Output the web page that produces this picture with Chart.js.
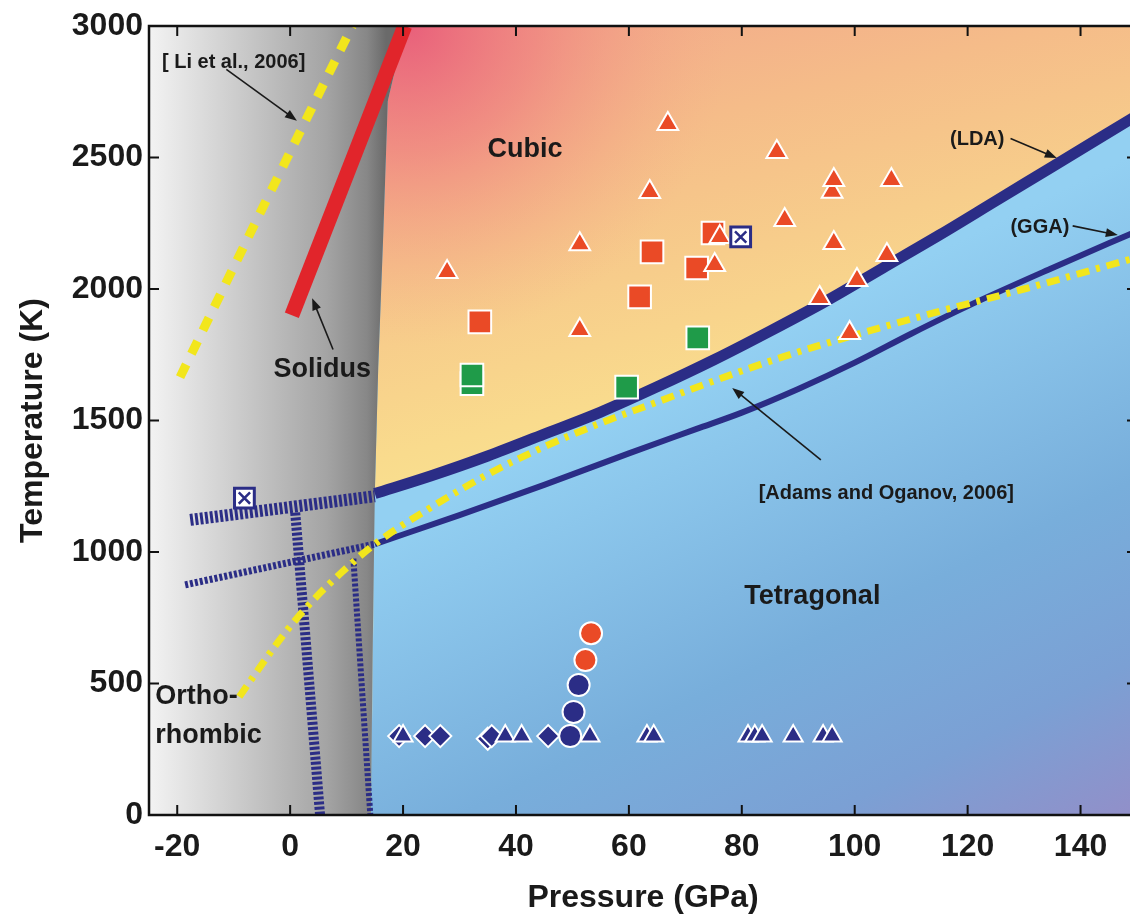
<!DOCTYPE html>
<html>
<head>
<meta charset="utf-8">
<title>MgSiO3 / SiO2 phase diagram</title>
<script src="https://cdn.jsdelivr.net/npm/chart.js@4.4.1/dist/chart.umd.min.js"></script>
<style>
  html, body { margin: 0; padding: 0; background: #fff; overflow: hidden; }
  canvas { display: block; }
</style>
</head>
<body>
<canvas id="phase-chart" width="1140" height="921"></canvas>
<script>
// axis ticks
const pressureTicks = [-20, 0, 20, 40, 60, 80, 100, 120, 140];
const temperatureTicks = [0, 500, 1000, 1500, 2000, 2500, 3000];

// cubic / tetragonal boundary, LDA
const ldaP = [15, 25, 35, 45, 55, 65, 75, 85, 95, 105, 115, 125, 135, 150];
const ldaT = [1222, 1290, 1365, 1448, 1532, 1628, 1730, 1840, 1955, 2080, 2205, 2335, 2465, 2660];

// cubic / tetragonal boundary, GGA
const ggaP = [15, 30, 45, 60, 72, 80, 90, 100, 110, 120, 135, 150];
const ggaT = [1030, 1140, 1255, 1375, 1468, 1530, 1620, 1720, 1830, 1935, 2080, 2220];

// Adams and Oganov, 2006
const adamsP = [-9, -1, 4, 9, 15, 25, 35, 45, 55, 65, 75, 87, 100, 115, 130, 150];
const adamsT = [450, 690, 815, 920, 1030, 1170, 1295, 1400, 1490, 1570, 1650, 1740, 1825, 1915, 2000, 2120];

// Li et al., 2006
const liP = [-19.5, -4.5, 11];
const liT = [1665, 2325, 3000];

// solidus
const solidusP = [0.3, 20.3];
const solidusT = [1900, 3000];

// extrapolated boundaries into the orthorhombic field
const ldaExtP = [-17.7, 15];
const ldaExtT = [1122, 1212];
const ggaExtP = [-18.6, 15];
const ggaExtT = [875, 1030];
const orthoUpperP = [0.9, 5.3];
const orthoUpperT = [1150, 0];
const orthoLowerP = [11.2, 14.2];
const orthoLowerT = [975, 0];

// orthorhombic field edge
const orthoEdgeP = [14.3, 14.6, 15.0, 15.6, 16.5, 17.3, 20.4];
const orthoEdgeT = [0, 600, 1224, 1700, 2210, 2715, 3000];

// experiments, cubic
const redTriP = [66.9, 86.2, 96.0, 96.3, 106.5, 63.7, 51.3, 27.8, 87.6, 96.3, 105.7, 100.4, 93.8, 99.1, 51.3, 76.1, 75.2];
const redTriT = [2627, 2521, 2370, 2414, 2414, 2369, 2170, 2065, 2262, 2175, 2129, 2034, 1966, 1833, 1844, 2198, 2091];
const redSqP = [33.6, 61.9, 64.1, 72.0, 74.9];
const redSqT = [1875, 1970, 2141, 2080, 2213];
const greenSqP = [32.2, 32.2, 59.6, 72.2];
const greenSqT = [1640, 1673, 1627, 1814];
const crossSqP = [79.8, -8.1];
const crossSqT = [2198, 1205];

// experiments, tetragonal
const blueTriP = [20.0, 38.1, 41.0, 53.1, 63.2, 64.4, 81.1, 82.3, 83.6, 89.1, 94.4, 96.0];
const blueTriT = [300, 300, 300, 300, 300, 300, 300, 300, 300, 300, 300, 300];
const blueDiaP = [19.3, 23.9, 26.6, 35.0, 35.7, 45.7];
const blueDiaT = [300, 300, 300, 290, 300, 300];
const blueCircP = [49.6, 50.2, 51.1];
const blueCircT = [300, 392, 494];
const redCircP = [52.3, 53.3];
const redCircT = [589, 691];

const NAVY = "#2b2d86";
const RED = "#ea4a26";
const GREEN = "#1f9b49";
const YELLOW = "#f2e61c";
const SOLIDUS_RED = "#e1252b";
const TEXT = "#1a1a1a";

function pts(xs, ys) {
    return xs.map((x, i) => ({ x: x, y: ys[i] }));
}

function lineSet(xs, ys, color, width, dash, tension) {
    return {
        data: pts(xs, ys),
        showLine: true,
        borderColor: color,
        borderWidth: width,
        borderDash: dash || [],
        borderCapStyle: "butt",
        cubicInterpolationMode: tension ? "monotone" : "default",
        pointRadius: 0,
        fill: false,
    };
}

function markerSet(xs, ys, style, radius, fill, stroke, strokeWidth) {
    return {
        data: pts(xs, ys),
        showLine: false,
        pointStyle: style,
        pointRadius: radius,
        pointBackgroundColor: fill,
        pointBorderColor: stroke,
        pointBorderWidth: strokeWidth,
    };
}

// back to front
const layers = [
    lineSet(orthoUpperP, orthoUpperT, NAVY, 10, [3, 2]),
    lineSet(orthoLowerP, orthoLowerT, NAVY, 6, [3, 2]),
    lineSet(ldaExtP, ldaExtT, NAVY, 12, [3, 2]),
    lineSet(ggaExtP, ggaExtT, NAVY, 7, [3, 2]),
    lineSet(ggaP, ggaT, NAVY, 6, null, true),
    lineSet(ldaP, ldaT, NAVY, 11, null, true),
    lineSet(adamsP, adamsT, YELLOW, 7, [13, 7, 4, 7], true),
    lineSet(liP, liT, YELLOW, 9, [14, 12]),
    lineSet(solidusP, solidusT, SOLIDUS_RED, 15),
    markerSet(greenSqP, greenSqT, "rect", 16, GREEN, "#fff", 2),
    markerSet(redSqP, redSqT, "rect", 16, RED, "#fff", 2),
    markerSet(redTriP, redTriT, "triangle", 12, RED, "#fff", 2),
    markerSet(crossSqP, crossSqT, "rect", 14, "#fff", NAVY, 3),
    markerSet(crossSqP, crossSqT, "crossRot", 8, NAVY, NAVY, 2.5),
    markerSet(blueDiaP, blueDiaT, "rectRot", 11, NAVY, "#fff", 2),
    markerSet(blueTriP, blueTriT, "triangle", 11, NAVY, "#fff", 2),
    markerSet(blueCircP, blueCircT, "circle", 11, NAVY, "#fff", 2),
    markerSet(redCircP, redCircT, "circle", 11, RED, "#fff", 2),
];
layers.forEach((ds, i) => { ds.order = layers.length - i; });

// phase fields painted under the data
const phaseFields = {
    id: "phaseFields",
    beforeDatasetsDraw(chart) {
        const ctx = chart.ctx;
        const area = chart.chartArea;
        const xs = chart.scales.x, ys = chart.scales.y;
        const px = v => xs.getPixelForValue(v);
        const py = v => ys.getPixelForValue(v);

        ctx.save();
        ctx.beginPath();
        ctx.rect(area.left, area.top, area.width, area.height);
        ctx.clip();

        // tetragonal
        const a0 = { x: px(73), y: py(1700) };
        const a1 = { x: a0.x + 0.445 * 650, y: a0.y + 0.896 * 650 };
        let g = ctx.createLinearGradient(a0.x, a0.y, a1.x, a1.y);
        g.addColorStop(0, "#93d0f2");
        g.addColorStop(0.45, "#78aedb");
        g.addColorStop(0.7, "#7ba0d4");
        g.addColorStop(1, "#9b88c4");
        ctx.fillStyle = g;
        ctx.fillRect(area.left, area.top, area.width, area.height);

        // cubic
        ctx.beginPath();
        ldaP.forEach((p, i) => {
            if (i === 0) ctx.moveTo(px(p), py(ldaT[i]));
            else ctx.lineTo(px(p), py(ldaT[i]));
        });
        ctx.lineTo(px(150), py(3000));
        for (let i = orthoEdgeP.length - 1; i >= 0; i--) {
            ctx.lineTo(px(orthoEdgeP[i]), py(orthoEdgeT[i]));
        }
        ctx.closePath();
        g = ctx.createLinearGradient(px(20), py(3000), px(40), py(1300));
        g.addColorStop(0, "#f2a68a");
        g.addColorStop(0.35, "#f5bc89");
        g.addColorStop(0.65, "#f7cd8b");
        g.addColorStop(0.9, "#f9db8d");
        g.addColorStop(1, "#f9df8f");
        ctx.fillStyle = g;
        ctx.fill();
        ctx.save();
        ctx.clip();
        const r = ctx.createRadialGradient(px(21), py(3000), 0, px(21), py(3000), 320);
        r.addColorStop(0, "rgba(232,92,122,0.95)");
        r.addColorStop(0.4, "rgba(238,118,126,0.6)");
        r.addColorStop(1, "rgba(244,170,134,0)");
        ctx.fillStyle = r;
        ctx.fillRect(area.left, area.top, area.width, area.height);
        ctx.restore();

        // orthorhombic
        ctx.beginPath();
        ctx.moveTo(area.left, py(0));
        orthoEdgeP.forEach((p, i) => ctx.lineTo(px(p), py(orthoEdgeT[i])));
        ctx.lineTo(area.left, py(3000));
        ctx.closePath();
        g = ctx.createLinearGradient(area.left, 0, px(17), 0);
        g.addColorStop(0, "#f3f3f3");
        g.addColorStop(0.4, "#c9c9c9");
        g.addColorStop(0.75, "#a4a4a4");
        g.addColorStop(0.92, "#878787");
        g.addColorStop(1, "#6a6a6a");
        ctx.fillStyle = g;
        ctx.fill();

        ctx.restore();
    },
};

function arrow(ctx, x1, y1, x2, y2) {
    const a = Math.atan2(y2 - y1, x2 - x1);
    const c = Math.cos(a), s = Math.sin(a);
    ctx.beginPath();
    ctx.moveTo(x1, y1);
    ctx.lineTo(x2 - 8 * c, y2 - 8 * s);
    ctx.stroke();
    ctx.beginPath();
    ctx.moveTo(x2, y2);
    ctx.lineTo(x2 - 12 * c + 4.5 * s, y2 - 12 * s - 4.5 * c);
    ctx.lineTo(x2 - 12 * c - 4.5 * s, y2 - 12 * s + 4.5 * c);
    ctx.closePath();
    ctx.fill();
}

// field names, references and pointers
const annotations = {
    id: "annotations",
    afterDatasetsDraw(chart) {
        const ctx = chart.ctx;
        const xs = chart.scales.x, ys = chart.scales.y;
        const px = v => xs.getPixelForValue(v);
        const py = v => ys.getPixelForValue(v);
        const big = 'bold 27px "Liberation Sans", Arial, sans-serif';
        const small = 'bold 20px "Liberation Sans", Arial, sans-serif';

        ctx.save();
        ctx.fillStyle = TEXT;
        ctx.strokeStyle = TEXT;
        ctx.lineWidth = 1.6;
        ctx.textBaseline = "middle";

        ctx.font = big;
        ctx.textAlign = "center";
        ctx.fillText("Cubic", px(41.6), py(2529));
        ctx.fillText("Tetragonal", px(92.5), py(829));
        ctx.fillText("Solidus", px(5.7), py(1692));
        ctx.textAlign = "left";
        ctx.fillText("Ortho-", px(-23.9), py(449));
        ctx.fillText("rhombic", px(-23.9), py(304));

        ctx.font = small;
        ctx.textAlign = "left";
        ctx.fillText("[ Li et al., 2006]", px(-22.7), py(2863));
        ctx.textAlign = "center";
        ctx.fillText("(LDA)", px(121.7), py(2567));
        ctx.fillText("(GGA)", px(132.8), py(2232));
        ctx.fillText("[Adams and Oganov, 2006]", px(105.6), py(1224));

        arrow(ctx, px(-11.3), py(2835), px(1.2), py(2640));
        arrow(ctx, px(7.6), py(1770), px(3.9), py(1965));
        arrow(ctx, px(127.6), py(2572), px(135.8), py(2498));
        arrow(ctx, px(138.6), py(2240), px(146.6), py(2205));
        arrow(ctx, px(94), py(1350), px(78.3), py(1624));
        ctx.restore();
    },
};

// frame with inward ticks on all four sides
const frame = {
    id: "frame",
    afterDraw(chart) {
        const ctx = chart.ctx;
        const area = chart.chartArea;
        const xs = chart.scales.x, ys = chart.scales.y;
        const len = 10;
        ctx.save();
        ctx.strokeStyle = "#111";
        ctx.lineWidth = 2;
        pressureTicks.forEach(v => {
            const x = xs.getPixelForValue(v);
            ctx.beginPath();
            ctx.moveTo(x, area.bottom); ctx.lineTo(x, area.bottom - len);
            ctx.moveTo(x, area.top); ctx.lineTo(x, area.top + len);
            ctx.stroke();
        });
        temperatureTicks.forEach(v => {
            const y = ys.getPixelForValue(v);
            ctx.beginPath();
            ctx.moveTo(area.left, y); ctx.lineTo(area.left + len, y);
            ctx.moveTo(area.right, y); ctx.lineTo(area.right - len, y);
            ctx.stroke();
        });
        ctx.lineWidth = 2.5;
        ctx.strokeRect(area.left, area.top, area.width, area.height);
        ctx.restore();
    },
};

const axisFont = { family: '"Liberation Sans", Arial, sans-serif', weight: "bold", size: 32 };

function fixBox(size) {
    return function (scale) {
        if (scale.isHorizontal()) scale.height = size;
        else scale.width = size;
        scale.paddingLeft = 0;
        scale.paddingRight = 0;
        scale.paddingTop = 0;
        scale.paddingBottom = 0;
    };
}

new Chart(document.getElementById("phase-chart"), {
    type: "scatter",
    data: { datasets: layers },
    plugins: [phaseFields, annotations, frame],
    options: {
        responsive: false,
        animation: false,
        events: [],
        layout: { autoPadding: false, padding: { left: 0, top: 26, right: 3, bottom: 0 } },
        plugins: { legend: { display: false }, tooltip: { enabled: false } },
        scales: {
            x: {
                type: "linear",
                min: -25,
                max: 150,
                afterFit: fixBox(106),
                afterBuildTicks(scale) { scale.ticks = pressureTicks.map(v => ({ value: v })); },
                grid: { display: false, drawTicks: false },
                border: { display: false },
                ticks: { color: TEXT, font: axisFont, padding: 13, callback: v => String(v) },
                title: { display: true, text: "Pressure (GPa)", color: TEXT, font: axisFont, padding: { top: 0, bottom: 4 } },
            },
            y: {
                type: "linear",
                min: 0,
                max: 3000,
                afterFit: fixBox(149),
                afterBuildTicks(scale) { scale.ticks = temperatureTicks.map(v => ({ value: v })); },
                grid: { display: false, drawTicks: false },
                border: { display: false },
                ticks: { color: TEXT, font: axisFont, padding: 6, callback: v => String(v) },
                title: { display: true, text: "Temperature (K)", color: TEXT, font: axisFont, padding: { top: 14, bottom: 0 } },
            },
        },
    },
});
</script>
</body>
</html>
